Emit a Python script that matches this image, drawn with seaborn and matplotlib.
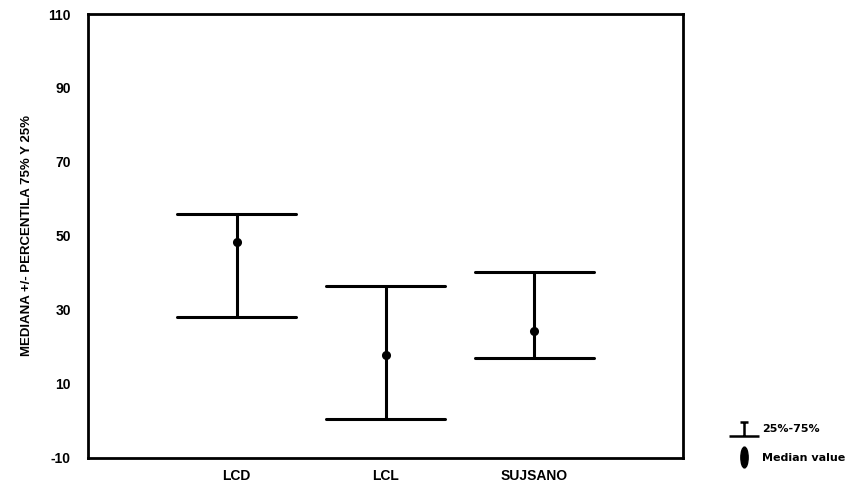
import numpy as np
import pandas as pd
import seaborn as sns
import matplotlib.pyplot as plt
from matplotlib.lines import Line2D
from matplotlib.path import Path
from matplotlib.transforms import Affine2D

# values
grupos = ["LCD", "LCL", "SUJSANO"]
p25 = [28.1, 0.5, 17.0]
mediana = [48.4, 17.8, 24.3]
p75 = [56.0, 36.5, 40.3]

# long table: median of (p25, mediana, p75) is the median, min/max give the range
df = pd.DataFrame({
    "grupo": np.repeat(grupos, 3),
    "valor": np.ravel(np.column_stack([p25, mediana, p75])),
})

sns.set_style("white")
plt.rcParams["font.family"] = ["Liberation Sans", "DejaVu Sans"]
plt.rcParams["axes.unicode_minus"] = False
plt.rcParams["text.color"] = "black"
plt.rcParams["axes.labelcolor"] = "black"
plt.rcParams["xtick.color"] = "black"
plt.rcParams["ytick.color"] = "black"

fig = plt.figure(figsize=(8.51, 4.83), dpi=100)
ax = fig.add_axes([0.103, 0.052, 0.700, 0.919])

sns.pointplot(data=df, x="grupo", y="valor", estimator="median",
              errorbar=lambda v: (v.min(), v.max()),
              capsize=0.8, linestyle="none", color="black",
              markersize=4.5, err_kws={"linewidth": 2.2}, ax=ax)

ax.set_xlim(-1, 3)
ax.set_ylim(-10, 110)
ax.set_yticks(range(-10, 111, 20))
ax.set_xlabel("")
ax.set_ylabel("MEDIANA +/- PERCENTILA 75% Y 25%", fontsize=9.5, fontweight="bold", labelpad=11)
ax.tick_params(axis="both", direction="in", length=2, width=1.5, labelsize=10)
ax.tick_params(axis="y", pad=12)
ax.tick_params(axis="x", pad=8)
for lab in ax.get_xticklabels() + ax.get_yticklabels():
    lab.set_fontweight("bold")
for sp in ax.spines.values():
    sp.set_linewidth(2)
    sp.set_color("black")

# legend symbols
cap_path = Path([(-0.25, 0.45), (0.25, 0.45), (0, 0.45), (0, -0.45), (-1, -0.45), (1, -0.45)],
                [Path.MOVETO, Path.LINETO, Path.MOVETO, Path.LINETO, Path.MOVETO, Path.LINETO])
oval = Path.unit_circle().transformed(Affine2D().scale(0.35, 1.0))
handles = [
    Line2D([], [], linestyle="none", marker=cap_path, markersize=22,
           markeredgewidth=1.8, color="black", markerfacecolor="none"),
    Line2D([], [], linestyle="none", marker=oval, markersize=15, color="black"),
]
leg = fig.legend(handles, ["25%-75%", "Median value"], loc="lower right",
                 bbox_to_anchor=(1.005, 0.02), frameon=False,
                 prop={"family": "DejaVu Sans", "size": 8, "weight": "bold"},
                 handletextpad=0.5, labelspacing=1.7, handlelength=2.2)

fig.savefig("out.png", dpi=100)
